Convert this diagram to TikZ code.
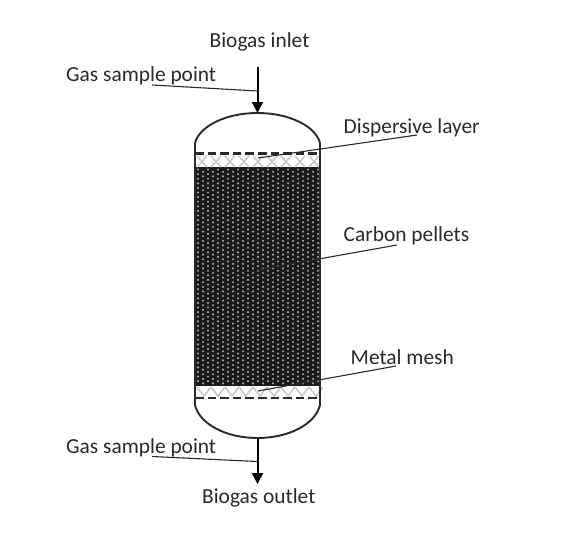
\documentclass[tikz,border=0pt]{standalone}
\usepackage{fontspec}
\setmainfont{Carlito}
\usetikzlibrary{arrows.meta}
\definecolor{inkc}{HTML}{2A2A2A}
\tikzset{
  lab/.style={font=\fontsize{21.4}{23}\selectfont,text=inkc,inner sep=0pt,anchor=base west},
  leader/.style={draw=inkc,line width=1.1pt},
  wall/.style={draw=inkc,line width=1.9pt},
  flow/.style={draw=black,line width=2pt,-{Triangle[length=11pt,width=11pt]}},
  dashline/.style={draw=inkc,line width=2.7pt,dash pattern=on 8.6pt off 4pt},
  zig/.style={draw=black!22,line width=1.5pt}
}
\begin{document}
\begin{tikzpicture}[x=1pt,y=-1pt]
\useasboundingbox (0,0) rectangle (580,541);
\fill[white] (0,0) rectangle (580,541);
% labels
\node[lab] (inlet) at (209.5,47.3) {Biogas inlet};
\node[lab] (gs1) at (66,81) {Gas sample point};
\node[lab] (disp) at (343.5,133) {Dispersive layer};
\node[lab] (pell) at (343.5,241) {Carbon pellets};
\node[lab] (mesh) at (350.5,364) {Metal mesh};
\node[lab] (gs2) at (66,453.8) {Gas sample point};
\node[lab] (outlet) at (202,503.3) {Biogas outlet};
% pellet bed
\fill[black!90] (195,167) rectangle (320,386);
\foreach \i in {0,...,24}{
  \foreach \j in {0,...,47}{
    \pgfmathsetmacro{\xx}{198+5*\i}
    \pgfmathsetmacro{\yy}{169.5+4.6*\j+mod(\i,2)*2.3}
    \ifdim\yy pt<385pt
      \fill[black!35] (\xx,\yy) circle (1.2);
    \fi
  }
}
% dispersive layers
\foreach \i in {0,...,8}{
  \draw[zig] ({197+14*\i},156) -- ({207+14*\i},167);
  \draw[zig] ({207+14*\i},156) -- ({197+14*\i},167);
  \draw[zig] ({197+14*\i},387) -- ({204+14*\i},396) -- ({211+14*\i},387);
}
% vessel
\draw[wall] (195,167) -- (195,143) .. controls (199.5,126) and (226,113) .. (257.5,113) .. controls (289,113) and (315.5,126) .. (320,143) -- (320,386);
\draw[wall] (195,167) -- (195,405) .. controls (199.5,424) and (226,438) .. (257.5,438) .. controls (289,438) and (315.5,424) .. (320,405) -- (320,386);
\coordinate (t1) at (195,153.5); \coordinate (t2) at (320,153.5);
\coordinate (b1) at (195,398); \coordinate (b2) at (320,398);
\draw[dashline] (t1) -- (t2);
\draw[dashline] (b1) -- (b2);
% flows
\coordinate (topin) at (257.5,67);
\coordinate (apex) at (257.5,113);
\coordinate (botout) at (257.5,438);
\coordinate (botend) at (257.5,484);
\draw[flow] (topin) -- (apex);
\draw[flow] (botout) -- (botend);
% leaders
\coordinate (g1a) at (152,85); \coordinate (g1b) at (257.5,91);
\coordinate (g2a) at (152,456.5); \coordinate (g2b) at (257.5,461.5);
\coordinate (da) at (417,135); \coordinate (db) at (258,158);
\coordinate (pa) at (397,245); \coordinate (pb) at (257,270);
\coordinate (ma) at (396,366); \coordinate (mb) at (258,391);
\draw[leader] (g1a) -- (g1b);
\draw[leader] (g2a) -- (g2b);
\draw[leader] (da) -- (db);
\draw[leader] (pa) -- (pb);
\draw[leader] (ma) -- (mb);
\end{tikzpicture}
\end{document}
